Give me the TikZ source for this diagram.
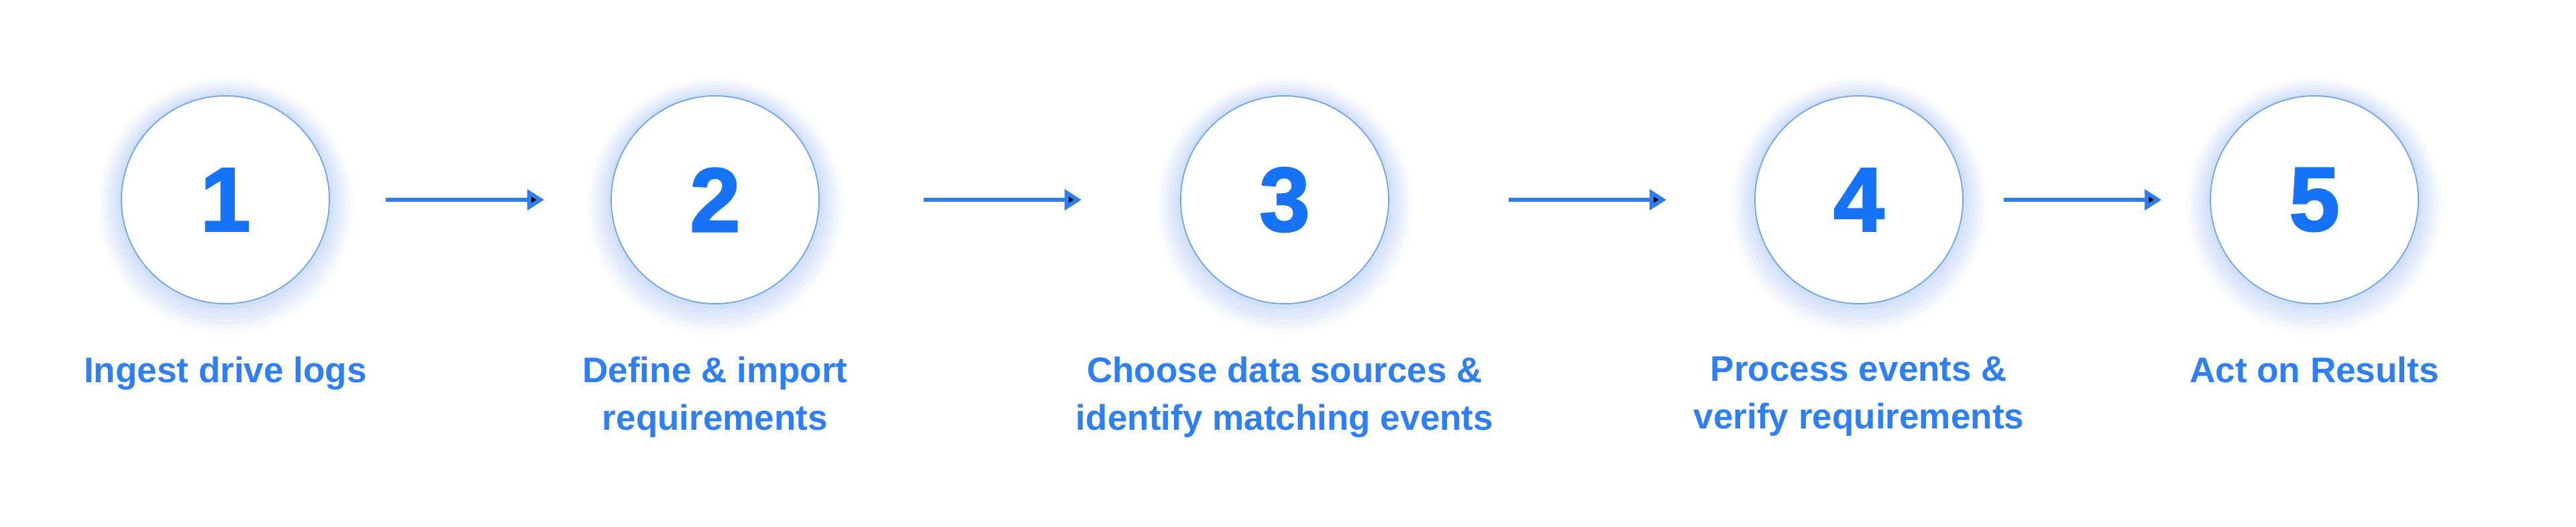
\documentclass[tikz,border=0pt]{standalone}
\usepackage{fontspec}
\setmainfont{Liberation Sans}
\newfontfamily\numfont{Liberation Sans}[BoldFeatures={FakeBold=2}]
\usepackage{tikz}
\usetikzlibrary{arrows.meta,positioning}
\definecolor{numblue}{HTML}{1673F7}
\definecolor{textblue}{HTML}{2E7EF4}
\definecolor{ringblue}{HTML}{6FA3F0}
\definecolor{arrowblue}{HTML}{2D7CF0}
\definecolor{glowblue}{HTML}{4F8CF5}
\tikzset{>={Triangle[length=0.25cm,width=0.3cm]},auto,
  stage node/.style={circle,draw=ringblue,line width=0.5pt,fill=white,minimum size=3.1cm,inner sep=0pt,
    text=numblue,font=\numfont\fontsize{38.5}{40}\selectfont\bfseries,
    preaction={draw=glowblue,draw opacity=0.03,line width=0.72cm,transform canvas={yshift=-0.09cm}},
    preaction={draw=glowblue,draw opacity=0.04,line width=0.60cm,transform canvas={yshift=-0.08cm}},
    preaction={draw=glowblue,draw opacity=0.04,line width=0.48cm,transform canvas={yshift=-0.07cm}},
    preaction={draw=glowblue,draw opacity=0.05,line width=0.36cm,transform canvas={yshift=-0.06cm}},
    preaction={draw=glowblue,draw opacity=0.05,line width=0.24cm,transform canvas={yshift=-0.04cm}},
    preaction={draw=glowblue,draw opacity=0.06,line width=0.12cm,transform canvas={yshift=-0.02cm}}},
  caption node/.style={inner sep=0pt,align=center,text=textblue,font=\fontsize{15.1}{20.2}\selectfont\bfseries},
  flow edge/.style={draw=arrowblue,line width=0.06cm}}

\begin{document}
\begin{tikzpicture}
    \fill[white] (0,0) rectangle (38.4,-7.85);
    \useasboundingbox (0,0) rectangle (38.4,-7.85);

    \node[stage node, on grid] (s1) at (3.36,-2.98) {1};
    \node[stage node, on grid] (s2) [right = 7.30cm of s1] {2};
    \node[stage node, on grid] (s3) [right = 8.49cm of s2] {3};
    \node[stage node, on grid] (s4) [right = 8.56cm of s3] {4};
    \node[stage node, on grid] (s5) [right = 6.79cm of s4] {5};

    \node[caption node] (c1) [below = 0.77cm of s1] {Ingest drive logs};
    \node[caption node] (c2) [below = 0.77cm of s2] {Define \& import\\requirements};
    \node[caption node] (c3) [below = 0.77cm of s3] {Choose data sources \&\\identify matching events};
    \node[caption node] (c4) [below = 0.77cm of s4] {Process events \&\\verify requirements};
    \node[caption node] (c5) [below = 0.77cm of s5] {Act on Results};

    \path[flow edge] (s1) edge [->, shorten <=0.83cm, shorten >=0.99cm] (s2);
    \path[flow edge] (s2) edge [->, shorten <=1.55cm, shorten >=1.47cm] (s3);
    \path[flow edge] (s3) edge [->, shorten <=1.78cm, shorten >=1.31cm] (s4);
    \path[flow edge] (s4) edge [->, shorten <=0.60cm, shorten >=0.72cm] (s5);
  \end{tikzpicture}
\end{document}
